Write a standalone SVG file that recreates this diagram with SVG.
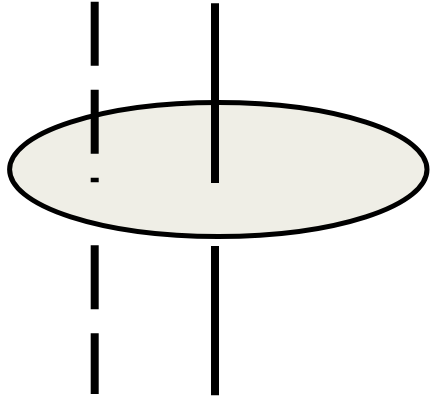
<svg xmlns="http://www.w3.org/2000/svg" width="430" height="397" viewBox="0 0 430 397">
<style>
.line{stroke:#000;stroke-width:8;fill:none}
.dash{stroke-dasharray:64 24}
</style>
<g id="disk">
<ellipse cx="218.3" cy="169.5" rx="208.7" ry="67" fill="#EFEEE6" stroke="#000" stroke-width="5"/>
</g>
<g id="connectors">
<line class="line dash" x1="94.7" y1="1.7" x2="94.7" y2="182.3"/>
<line class="line" x1="215" y1="3.3" x2="215" y2="183"/>
<line class="line dash" x1="94.7" y1="245.3" x2="94.7" y2="394"/>
<line class="line" x1="215" y1="246" x2="215" y2="395.3"/>
</g>
</svg>
